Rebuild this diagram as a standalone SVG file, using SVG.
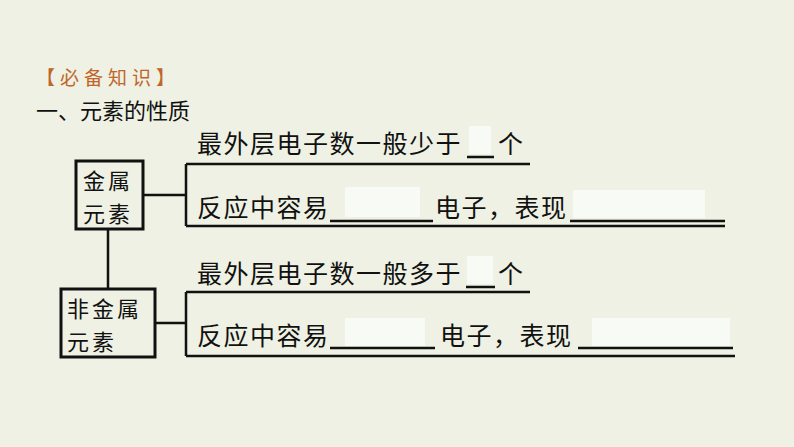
<svg xmlns="http://www.w3.org/2000/svg" width="794" height="447" viewBox="0 0 794 447">
<style>
text{font-family:"Noto Sans CJK SC",sans-serif;fill:#111}
.t{font-size:25px;letter-spacing:1.5px}
.k{font-size:22px;letter-spacing:3px}
.b{fill:none;stroke:#111;stroke-width:3}
.l{stroke:#111;stroke-width:2.5;fill:none}
.w{fill:#f8faf6}
</style>
<rect width="794" height="447" fill="#eef1e3"/>
<text x="36" y="85" style="font-size:19px;letter-spacing:5px;fill:#c0652a">【必备知识】</text>
<text x="36" y="119" style="font-size:22px">一、元素的性质</text>
<g id="connectors">
<path class="l" d="M143 195H186M186 164V226M186 164H530M186 226H725M108 229V289M155 323H186M186 292V356M186 292H530M186 356H735"/>
<path class="l" d="M467 157H494M330 221H433M570 221H725M466 287H495M330 348H435M578 348H733"/>
</g>
<g id="metal">
<rect class="b" x="76" y="161" width="67" height="68"/>
<text class="k" x="83" y="189">金属</text>
<text class="k" x="83" y="222">元素</text>
</g>
<g id="nonmetal">
<rect class="b" x="61" y="289" width="94" height="68"/>
<text class="k" x="67" y="317">非金属</text>
<text class="k" x="67" y="350">元素</text>
</g>
<g id="rows">
<rect class="w" x="469" y="126" width="22" height="28"/>
<rect class="w" x="345" y="187" width="75" height="30"/>
<rect class="w" x="573" y="190" width="132" height="28"/>
<rect class="w" x="467" y="256" width="26" height="28"/>
<rect class="w" x="345" y="318" width="80" height="28"/>
<rect class="w" x="592" y="318" width="138" height="28"/>
<text class="t" x="197" y="153">最外层电子数一般少于</text>
<text class="t" x="498" y="153">个</text>
<text class="t" x="197" y="217">反应中容易</text>
<text class="t" x="435" y="217">电子，表现</text>
<text class="t" x="197" y="283">最外层电子数一般多于</text>
<text class="t" x="498" y="283">个</text>
<text class="t" x="197" y="345">反应中容易</text>
<text class="t" x="440" y="345">电子，表现</text>
</g>
</svg>
